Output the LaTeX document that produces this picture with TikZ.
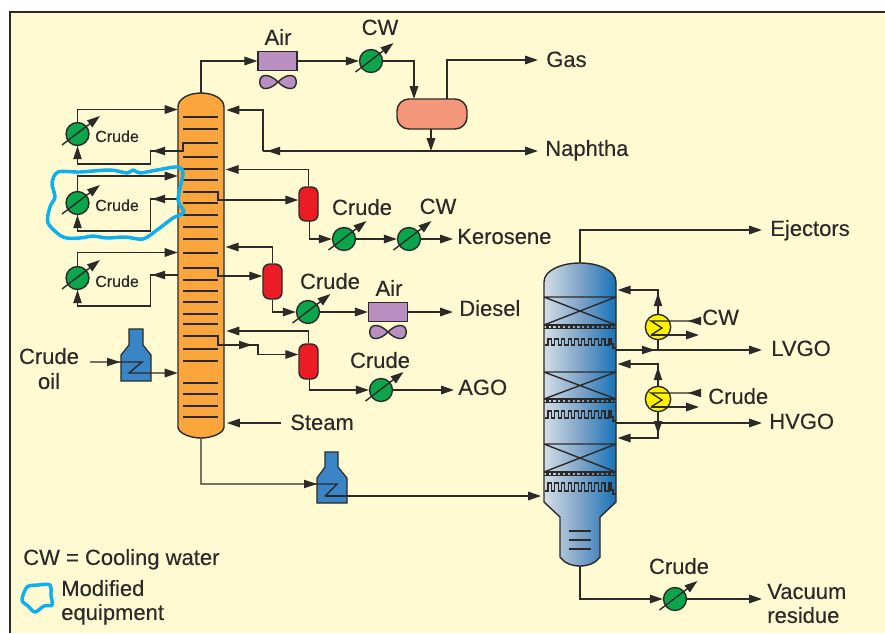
\documentclass[tikz,border=0pt]{standalone}
\usepackage{fontspec}
\setmainfont{Liberation Sans}[FakeBold=0.25]
\usetikzlibrary{arrows.meta}
\definecolor{bgc}{HTML}{FFFAD2}
\definecolor{ln}{HTML}{2B2A29}
\definecolor{orangec}{HTML}{FBA63C}
\definecolor{greenc}{HTML}{0BA54C}
\definecolor{yelc}{HTML}{FFF200}
\definecolor{redc}{HTML}{ED1C24}
\definecolor{salmonc}{HTML}{F4967A}
\definecolor{purpc}{HTML}{B88FC0}
\definecolor{bluec}{HTML}{3A85C6}
\definecolor{blobc}{HTML}{0CB0EE}
\definecolor{va}{HTML}{BCCBD8}
\definecolor{vb}{HTML}{D3DEE6}
\definecolor{vc}{HTML}{7FA4C8}
\definecolor{vd}{HTML}{0A6DB7}
\definecolor{ve}{HTML}{0A6AB4}
\pgfdeclarehorizontalshading{vacshade}{100bp}{color(0bp)=(va); color(25bp)=(vb); color(50bp)=(vc); color(78bp)=(vd); color(100bp)=(ve)}
\newcommand{\hd}[3]{\fill[ln,shift={(#1,#2)},rotate=#3] (0,0)--(-13,4.3)--(-13,-4.3)--cycle;}
\newcommand{\fanat}[2]{\draw[wire,fill=purpc,shift={(#1,#2)}] (0,0) .. controls (-6,-6) and (-10,-6.5) .. (-13,-6.5) .. controls (-20,-6.5) and (-20,6.5) .. (-13,6.5) .. controls (-10,6.5) and (-6,6) .. (0,0) .. controls (6,-6) and (10,-6.5) .. (13,-6.5) .. controls (20,-6.5) and (20,6.5) .. (13,6.5) .. controls (10,6.5) and (6,6) .. (0,0) -- cycle;}
\newcommand{\tray}[1]{\draw[wire] (183,#1) -- (218,#1);}
\newcommand{\diag}[1]{\draw[wire,ar] ([shift={(-15.5,11)}]#1.center) -- ([shift={(22.5,-18)}]#1.center);}
\newcommand{\teeth}[2]{\draw[wire,line width=.8pt] (545,#2) foreach \i in {0,...,8} {-- ({548+6.7*\i},#2) -- ({548+6.7*\i},#1) -- ({551.4+6.7*\i},#1) -- ({551.4+6.7*\i},#2)} -- (609,#2) -- (609,#1) -- (611,#1) -- (611,#2-1) -- (613,#2-1) -- (613,#2+3) -- (616,#2+3);}
\newcommand{\band}[1]{\draw[wire,line width=.8pt] (544,#1) -- (616,#1) (544,#1+3.5) -- (616,#1+3.5);
\draw[ln,line width=1.6pt,dash pattern=on 2pt off 1.6pt] (546,#1+1.75) -- (614,#1+1.75);}
\newcommand{\bed}[2]{\draw[wire] (544,#1) -- (616,#2) (544,#2) -- (616,#1) (544,#1) -- (616,#1);}
\tikzset{
  x=.75pt,y=-.75pt,
  wire/.style={ln,line width=1.05pt},
  ar/.style={-{Triangle[length=9.75pt,width=6.4pt]}},
  hx/.style={circle,draw=ln,fill=greenc,line width=1.05pt,minimum size=17.2pt,inner sep=0},
  hy/.style={circle,draw=ln,fill=yelc,line width=1.05pt,minimum size=19pt,inner sep=0},
  drum/.style={draw=ln,fill=redc,line width=1.05pt,minimum width=14.25pt,rounded corners=5pt,inner sep=0},
  cooler/.style={draw=ln,fill=purpc,line width=1.05pt,minimum width=29pt,minimum height=14.25pt,inner sep=0},
  lab/.style={inner sep=0,anchor=west,text=ln,font=\fontsize{16.5}{19}\selectfont,text height=10.4pt,text depth=0pt},
  clab/.style={lab,anchor=center},
  slab/.style={lab,font=\fontsize{12}{14}\selectfont,text height=7.4pt},
  blob/.style={blobc,line width=2.6pt,line join=round},
  ghost/.style={inner sep=0,minimum width=#1}
}
\begin{document}
\begin{tikzpicture}
\useasboundingbox (0,0) rectangle (885,633);
\fill[white] (0,0) rectangle (885,633);
\fill[bgc] (9,12) rectangle (885,633);
\draw[ln,line width=2.2pt] (10,633) -- (10,12) -- (885,12);
% towers
\node[ghost=34.5pt,minimum height=258.75pt] (col) at (201,265.5) {};
\node[ghost=54pt,minimum height=227.25pt] (vac) at (580,414.5) {};
\draw[wire,fill=orangec] (178,107) .. controls (178,98) and (190,93) .. (201,93) .. controls (212,93) and (224,98) .. (224,107) -- (224,427) .. controls (224,433) and (212,438) .. (201,438) .. controls (190,438) and (178,433) .. (178,427) -- cycle;
\foreach \y in {117,129,157,169,180,203,215,227,239,253,280,291,302,314,324,349,361,383,394,406,417} {\tray{\y}}
\draw[wire,shading=vacshade,shading angle=0] (544,282) .. controls (544,270) and (562,263) .. (580,263) .. controls (598,263) and (616,270) .. (616,282) -- (616,502) -- (600,517) -- (600,557) .. controls (596,563) and (588,566) .. (580,566) .. controls (572,566) and (564,563) .. (560,557) -- (560,517) -- (544,502) -- cycle;
\bed{297}{325}\band{325}\teeth{339}{345}
\bed{372}{399}\band{399}\teeth{411}{418}
\bed{444}{472}\band{472}\teeth{483}{491}
\draw[wire,line width=.8pt] (569,531) -- (591,531) (569,540) -- (591,540) (569,549) -- (591,549);
% furnaces
\draw[ln,line width=.9pt,fill=bluec] (121,381) -- (121,355) -- (129,345) -- (129,329) -- (143,329) -- (143,345) -- (151,355) -- (151,381) -- cycle;
\draw[ln,line width=.9pt,fill=bluec] (317,503) -- (317,478) -- (325,467) -- (325,452) -- (338,452) -- (338,467) -- (347,478) -- (347,503) -- cycle;
% equipment
\node[hx] (e1) at (77.5,134) {};
\node[hx] (e2) at (77.5,203) {};
\node[hx] (e3) at (77.5,278) {};
\node[hx] (e4) at (371,61) {};
\node[hx] (e5) at (344,239) {};
\node[hx] (e6) at (409,239) {};
\node[hx] (e7) at (308,312) {};
\node[hx] (e8) at (381,390) {};
\node[hx] (e9) at (675,599) {};
\node[hy] (y1) at (658,327) {};
\node[hy] (y2) at (658,399) {};
\node[cooler] (a1) at (277.5,61) {};
\node[cooler] (a2) at (388,312) {};
\node[drum,minimum height=25.5pt] (d1) at (308.5,204) {};
\node[drum,minimum height=26.25pt] (d2) at (272.5,281.5) {};
\node[drum,minimum height=26.25pt] (d3) at (308.5,361.5) {};
\node[draw=ln,fill=salmonc,line width=1.05pt,minimum width=52.5pt,minimum height=22.5pt,rounded corners=9pt,inner sep=0] (dr) at (432,114) {};
\fanat{278}{82}\fanat{388}{332}
% free ends and outlets
\coordinate (gas) at (538,60);
\coordinate (nap) at (538,151);
\coordinate (ker) at (453,239);
\coordinate (die) at (453,312);
\coordinate (ago) at (454,390);
\coordinate (ste) at (281,423);
\coordinate (oil) at (90,362);
\coordinate (eje) at (762,230);
\coordinate (lvg) at (762,350);
\coordinate (hvg) at (762,423);
\coordinate (res) at (762,599);
\coordinate (j1) at (263,151);
\coordinate (j2) at (658,350);
\coordinate (j3) at (658,423);
\coordinate (cwa) at (698,321);
\coordinate (cwb) at (699,335);
\coordinate (cra) at (698,393);
\coordinate (crb) at (699,407);
% connectors: left pumparounds
\draw[wire,ar] (e1.north) |- (col.west |- 0,109.5);
\draw[wire] (218,143) -- (183,143) -- (183,151) -- (150.5,151) -- (150.5,164) -- (77.5,164) -- (e1.south);
\hd{152}{151}{180}\hd{77.5}{146}{90}
\draw[wire,ar] (e2.north) |- (col.west |- 0,176);
\draw[wire] (col.west |- 0,199) -- (150.5,199) -- (150.5,231) -- (77.5,231) -- (e2.south);
\hd{152}{199}{180}\hd{77.5}{215}{90}
\draw[wire,ar] (e3.north) |- (col.west |- 0,252.5);
\draw[wire] (col.west |- 0,275) -- (150.5,275) -- (150.5,306) -- (77.5,306) -- (e3.south);
\hd{152}{275}{180}\hd{77.5}{290}{90}
% overhead
\draw[wire,ar] (col.north) |- (a1.west);
\draw[wire,ar] (a1.east) -- (e4.west);
\draw[wire,ar] (e4.east) -| (414,99);
\draw[wire,ar] (447,99) |- (gas);
\draw[wire,ar] (j1) -- (nap);
\draw[wire,ar] (431,129) -- (431,151);
\draw[wire,ar,shorten >=1.5pt] (j1) |- (col.east |- 0,110);
\hd{267}{151}{180}
% kerosene
\draw[wire,ar,shorten >=1pt] (d1.north) |- (col.east |- 0,169.5);
\draw[wire,ar] (183,192) -- (218,192) -- (218,200) -- (d1.west |- 0,200);
\draw[wire,ar] (309.5,221) |- (e5.west);
\draw[wire,ar] (e5.east) -- (e6.west);
\draw[wire,ar] (e6.east) -- (ker);
% diesel
\draw[wire,ar,shorten >=1pt] (d2.north) |- (col.east |- 0,247);
\draw[wire,ar] (183,268) -- (218,268) -- (218,276) -- (d2.west |- 0,276);
\draw[wire,ar] (d2.south) |- (e7.west);
\draw[wire,ar] (e7.east) -- (a2.west);
\draw[wire,ar] (a2.east) -- (die);
% AGO
\draw[wire,ar,shorten >=1.5pt] (d3.north) |- (col.east |- 0,331);
\draw[wire,ar] (183,336) -- (218,336) -- (218,345) -- (258,345) -- (258,354.5) -- (d3.west |- 0,354.5);
\hd{252}{345}{0}
\draw[wire,ar] (309.5,379) |- (e8.west);
\draw[wire,ar] (e8.east) -- (ago);
\draw[wire,ar,shorten >=2pt] (ste) -- (col.east |- ste);
% furnaces flows
\draw[wire,ar] (oil) -- (142,362) -- (129,373) -- (col.west |- 0,373);
\hd{120}{362}{0}
\draw[wire] (col.south) |- (337,484) -- (325,496);
\draw[wire,ar,shorten >=2pt] (325,496) -- (vac.west |- 0,496);
\hd{317}{484}{0}
% vacuum tower
\draw[wire,ar] (vac.north) |- (eje);
\draw[wire,ar] (vac.south) |- (e9.west);
\draw[wire,ar] (e9.east) -- (res);
\draw[wire,ar] (616,350) -- (lvg);
\draw[wire,ar] (616,423) -- (hvg);
\hd{655}{350}{0}
\draw[wire] (y1.south) -- (j2);
\draw[wire,ar,shorten >=1pt] (y1.north) |- (vac.east |- 0,290);
\hd{658}{293}{90}
\draw[wire] (cwa) -- (651,321) -- (662,328) -- (651,335);
\draw[wire,ar] (651,335) -- (cwb);
\hd{688}{321}{180}
\draw[wire,ar,shorten >=1pt] (y2.north) |- (vac.east |- 0,364);
\hd{658}{367}{90}
\draw[wire] (cra) -- (651,393) -- (662,400) -- (651,407);
\draw[wire,ar] (651,407) -- (crb);
\hd{688}{393}{180}
\draw[wire] (y2.south) -- (j3);
\draw[wire,ar,shorten >=1pt] (j3) |- (vac.east |- 0,438);
\hd{658}{434}{-90}
% diagonal arrows
\foreach \n in {e1,e2,e3,e4,e5,e6,e7,e8,e9} {\diag{\n}}
% labels
\node[lab] (tgas) at (546,60) {Gas};
\node[lab] (tnap) at (545,149) {Naphtha};
\node[lab] (tker) at (457,237) {Kerosene};
\node[lab] (tdie) at (459,309) {Diesel};
\node[lab] (tago) at (458,388) {AGO};
\node[lab] (tste) at (290,423) {Steam};
\node[lab] (teje) at (770,229) {Ejectors};
\node[lab] (tlvg) at (771,349) {LVGO};
\node[lab] (thvg) at (769,422) {HVGO};
\node[lab] (tcw1) at (702,318) {CW};
\node[lab] (tcr1) at (708,397) {Crude};
\node[clab] (tair1) at (278,38) {Air};
\node[clab] (tcw2) at (380,28) {CW};
\node[clab] (tcr2) at (362,208) {Crude};
\node[clab] (tcw3) at (438,207) {CW};
\node[clab] (tcr3) at (330,282) {Crude};
\node[clab] (tair2) at (389,289) {Air};
\node[clab] (tcr4) at (380,361) {Crude};
\node[clab] (tcr5) at (679,567) {Crude};
\node[lab] (tvac) at (767,592) {Vacuum};
\node[lab] (tres) at (767,616) {residue};
\node[clab] (toil1) at (49,357) {Crude};
\node[clab] (toil2) at (49,382) {oil};
\node[lab] (tleg) at (23,558) {CW = Cooling water};
\node[lab] (tmod) at (61,589) {Modified};
\node[lab] (tequ) at (61,613) {equipment};
\node[slab] (ts1) at (95,137) {Crude};
\node[slab] (ts2) at (95,206) {Crude};
\node[slab] (ts3) at (95,282) {Crude};
% modified equipment outlines
\draw[blob] plot[smooth cycle,tension=.5] coordinates {(58,172)(80,172)(110,170)(127,173)(133,170)(140,173)(157,170)(177,167)(183,173)(178,200)(184,212)(173,218)(157,230)(143,239)(125,237)(107,238)(93,236)(80,238)(63,237)(48,223)(50,207)(55,197)(52,183)};
\draw[blob] plot[smooth cycle,tension=.5] coordinates {(27,587)(38,585)(50,585)(51,595)(52,605)(44,606)(35,612)(28,606)(22,600)};
\end{tikzpicture}
\end{document}
